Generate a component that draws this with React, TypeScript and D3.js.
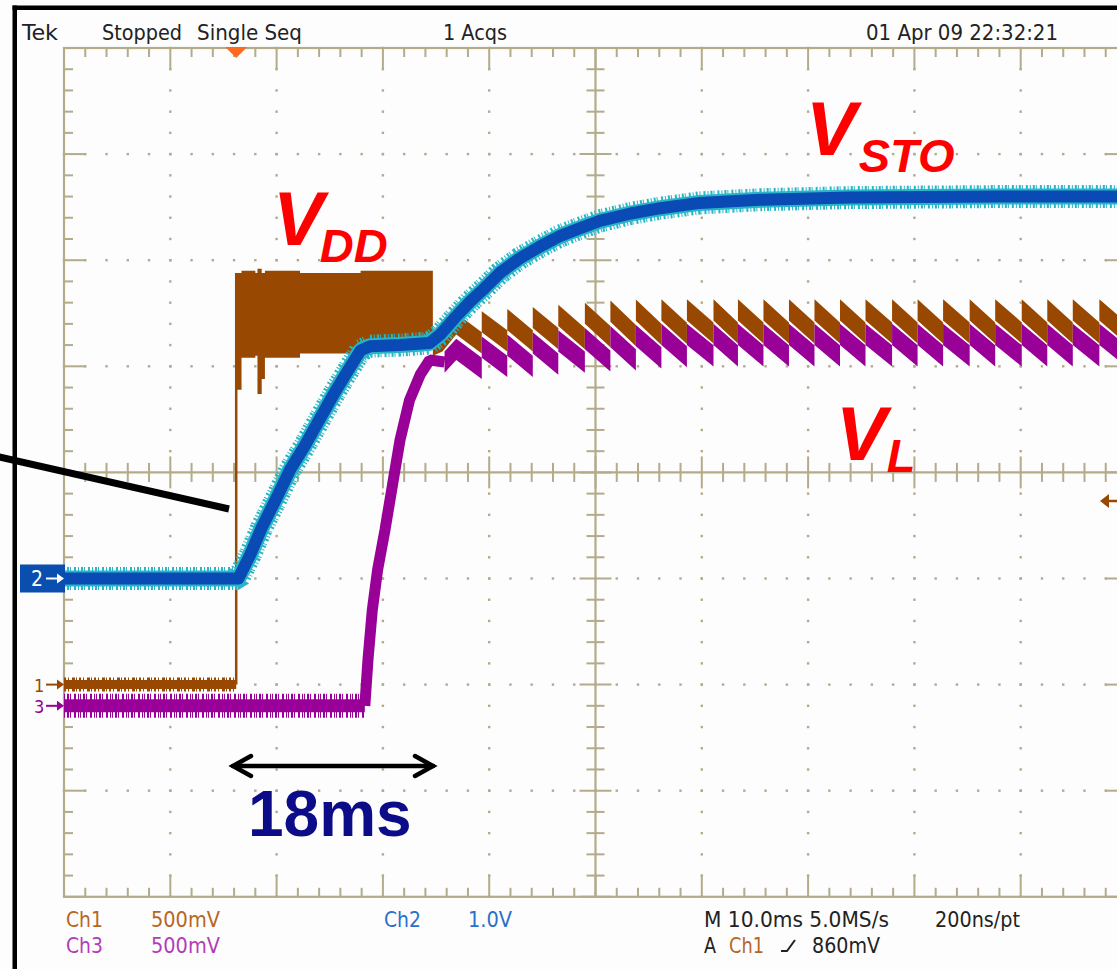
import { useEffect, useRef } from 'react'
import * as d3 from 'd3'

const WIDTH = 1117
const HEIGHT = 969

// Ch2 = V_STO (1.0 V/div) - time in ms, value in V
const ch2Time = [0, 16.4, 17.5, 18.6, 19.9, 21.3, 22.7, 24.1, 25.5, 26.9, 27.9, 28.8, 31.6, 34.4, 35.4, 36.8, 38.2, 39.6, 41.0, 42.9, 44.8, 46.7, 48.5, 50.4, 53.3, 56.1, 59.8, 65.5, 73.9, 88.1, 100]
const ch2Volt = [0, 0, 0.22, 0.48, 0.74, 1.03, 1.26, 1.51, 1.76, 1.99, 2.15, 2.19, 2.2, 2.22, 2.3, 2.46, 2.61, 2.74, 2.88, 3.02, 3.13, 3.23, 3.3, 3.37, 3.44, 3.49, 3.54, 3.57, 3.59, 3.6, 3.6]

// Ch1 = V_DD (500 mV/div)
const ch1IdleTime = [0, 16.2]
const ch1IdleVolt = [0, 0]
const ch1BlockTime = [16.2, 16.3, 16.7, 18.0, 18.2, 18.6, 18.9, 22.2, 27.9, 34.7]
const ch1BlockTop = [1.94, 1.94, 1.95, 1.94, 1.96, 1.94, 1.95, 1.94, 1.95, 1.94]
const ch1BlockBottom = [1.39, 1.39, 1.54, 1.55, 1.37, 1.44, 1.54, 1.56, 1.58, 1.58]
const ch1TailTime = [34.7, 35.6]
const ch1TailVolt = [1.6, 1.62]

// Ch3 = V_L (500 mV/div)
const ch3IdleTime = [0, 28.3]
const ch3IdleVolt = [0, 0]
const ch3RiseTime = [28.3, 28.6, 29.0, 29.5, 30.2, 30.9, 31.6, 32.5, 33.5, 34.4, 35.8]
const ch3RiseVolt = [0, 0.22, 0.45, 0.64, 0.83, 1.04, 1.25, 1.44, 1.56, 1.63, 1.62]

// regulator ripple (both channels switch together): tooth start, peak and end level
const toothTime = [36.9, 39.3, 41.7, 44.1, 46.5, 49.0, 51.4, 53.8, 56.2, 58.6, 61.1, 63.4, 65.8, 68.2, 70.6, 73.0, 75.4, 77.9, 80.3, 82.7, 85.2, 87.6, 90.1, 92.5, 94.9, 97.4]
const ch1Peak = [1.7, 1.71, 1.72, 1.73, 1.74, 1.75, 1.76, 1.765, 1.766, 1.766, 1.766, 1.766, 1.766, 1.766, 1.766, 1.766, 1.766, 1.766, 1.766, 1.766, 1.766, 1.766, 1.766, 1.766, 1.766, 1.766]
const ch1Trough = [1.61, 1.62, 1.62, 1.63, 1.63, 1.64, 1.645, 1.65, 1.655, 1.657, 1.657, 1.657, 1.657, 1.657, 1.657, 1.657, 1.657, 1.657, 1.657, 1.657, 1.657, 1.657, 1.657, 1.657, 1.657, 1.657]
const ch3Peak = [1.68, 1.69, 1.7, 1.71, 1.72, 1.73, 1.74, 1.745, 1.75, 1.75, 1.75, 1.75, 1.75, 1.75, 1.75, 1.75, 1.75, 1.75, 1.75, 1.75, 1.75, 1.75, 1.75, 1.75, 1.75, 1.75]
const ch3Trough = [1.59, 1.6, 1.6, 1.61, 1.62, 1.625, 1.63, 1.64, 1.645, 1.649, 1.649, 1.649, 1.649, 1.649, 1.649, 1.649, 1.649, 1.649, 1.649, 1.649, 1.649, 1.649, 1.649, 1.649, 1.649, 1.649]

// channel setup: volts per division and ground level in divisions
const channels = {
  ch1: { vdiv: 0.5, offset: -2, color: '#984800' },
  ch2: { vdiv: 1.0, offset: -1, color: '#0a4ab4' },
  ch3: { vdiv: 0.5, offset: -2.2, color: '#980098' },
}
const rippleNoise = 0.05 // V, half thickness of the ripple trace

const GRID = '#b3ab8a'
const OSC_FONT = "'Liberation Sans Narrow', 'DejaVu Sans Condensed', 'Liberation Sans', Arial, sans-serif"
const LABEL_FONT = "'Liberation Sans', Arial, sans-serif"

const App = () => {
  const svgRef = useRef<SVGSVGElement>(null)

  useEffect(() => {
    const svg = d3.select(svgRef.current)
    svg.selectAll('*').remove()

    const left = 64
    const top = 48
    const divX = 106.3
    const divY = 106.1
    const right = left + 10 * divX
    const bottom = top + 8 * divY

    const xDiv = d3.scaleLinear([0, 10], [left, right])
    const yDiv = d3.scaleLinear([-4, 4], [bottom, top])
    const xTime = d3.scaleLinear([0, 100], [left, right])
    const yCh = (ch: { vdiv: number; offset: number }) => (v: number) => yDiv(ch.offset + v / ch.vdiv)

    svg.append('rect').attr('width', WIDTH).attr('height', HEIGHT).attr('fill', '#fdfdfd')

    // ---- graticule
    const g = svg.append('g').attr('stroke', GRID).attr('fill', 'none')
    g.append('rect')
      .attr('x', left).attr('y', top)
      .attr('width', right - left).attr('height', bottom - top)
      .attr('stroke-width', 2.2)
    g.append('line').attr('x1', xDiv(5)).attr('x2', xDiv(5)).attr('y1', top).attr('y2', bottom).attr('stroke-width', 2.2)
    g.append('line').attr('x1', left).attr('x2', right).attr('y1', yDiv(0)).attr('y2', yDiv(0)).attr('stroke-width', 2.2)

    const minorX = d3.range(0, 10.01, 0.2)
    const minorY = d3.range(-4, 4.01, 0.2)
    minorX.forEach((d) => {
      const major = Math.abs(d - Math.round(d)) < 1e-6
      const len = major ? 22 : 9
      const x = xDiv(d)
      g.append('line').attr('x1', x).attr('x2', x).attr('y1', top).attr('y2', top + len).attr('stroke-width', 2)
      g.append('line').attr('x1', x).attr('x2', x).attr('y1', bottom).attr('y2', bottom - len).attr('stroke-width', 2)
      const cl = major ? 16 : 9.5
      g.append('line').attr('x1', x).attr('x2', x).attr('y1', yDiv(0) - cl).attr('y2', yDiv(0) + cl).attr('stroke-width', 2)
    })
    minorY.forEach((d) => {
      const major = Math.abs(d - Math.round(d)) < 1e-6
      const len = major ? 22 : 9
      const y = yDiv(d)
      g.append('line').attr('x1', left).attr('x2', left + len).attr('y1', y).attr('y2', y).attr('stroke-width', 2)
      g.append('line').attr('x1', right).attr('x2', right - len).attr('y1', y).attr('y2', y).attr('stroke-width', 2)
      const cl = major ? 16 : 9
      g.append('line').attr('x1', xDiv(5) - cl).attr('x2', xDiv(5) + cl).attr('y1', y).attr('y2', y).attr('stroke-width', 2)
    })
    const dots: [number, number][] = []
    d3.range(1, 10).filter((c) => c !== 5).forEach((c) => {
      minorY.forEach((r) => dots.push([xDiv(c), yDiv(r)]))
    })
    d3.range(-3, 4).filter((r) => r !== 0).forEach((r) => {
      minorX.forEach((c) => dots.push([xDiv(c), yDiv(r)]))
    })
    svg.append('g').attr('fill', GRID)
      .selectAll('rect').data(dots).join('rect')
      .attr('x', (d) => d[0] - 1.2).attr('y', (d) => d[1] - 1.2)
      .attr('width', 2.4).attr('height', 2.4)

    // ---- traces
    const traceLine = (y: (v: number) => number) =>
      d3.line<[number, number]>().x((d) => xTime(d[0])).y((d) => y(d[1]))
    const solid = (pts: [number, number][], y: (v: number) => number, color: string, w: number, join = 'bevel') =>
      svg.append('path').attr('d', traceLine(y)(pts)).attr('fill', 'none')
        .attr('stroke', color).attr('stroke-width', w).attr('stroke-linejoin', join)
    const noisy = (pts: [number, number][], y: (v: number) => number, color: string, w: number, fringe: string, fw: number, dash: string) => {
      svg.append('path').attr('d', traceLine(y)(pts)).attr('fill', 'none')
        .attr('stroke', fringe).attr('stroke-width', fw)
        .attr('stroke-dasharray', dash).attr('stroke-linejoin', 'bevel')
      solid(pts, y, color, w)
    }
    const saw = (peaks: number[], troughs: number[]) => {
      const pts: [number, number][] = []
      toothTime.forEach((t, i) => {
        if (i > 0) pts.push([t, troughs[i - 1]])
        pts.push([t, peaks[i]])
      })
      pts.push([99.9, troughs[troughs.length - 1]])
      return pts
    }
    // ripple drawn as a band around the sawtooth so the rising edges stay vertical
    const ripple = (pts: [number, number][], y: (v: number) => number, color: string) => {
      const band = d3.area<[number, number]>()
        .x((d) => xTime(d[0]))
        .y0((d) => y(d[1] - rippleNoise))
        .y1((d) => y(d[1] + rippleNoise))
      svg.append('path').attr('d', band(pts)).attr('fill', color)
    }
    const zipPts = (a: number[], b: number[]) => d3.zip(a, b) as [number, number][]

    // Ch1
    const y1 = yCh(channels.ch1)
    const c1 = channels.ch1.color
    noisy(zipPts(ch1IdleTime, ch1IdleVolt), y1, c1, 9, c1, 14, '2 2 1 3 3 1 1 2')
    svg.append('line')
      .attr('x1', xTime(16.2)).attr('x2', xTime(16.2))
      .attr('y1', y1(0)).attr('y2', y1(1.94))
      .attr('stroke', c1).attr('stroke-width', 2.5)
    const blockArea = d3.area<number>()
      .x((i) => xTime(ch1BlockTime[i]))
      .y0((i) => y1(ch1BlockBottom[i]))
      .y1((i) => y1(ch1BlockTop[i]))
      .curve(d3.curveStepAfter)
    svg.append('path').attr('d', blockArea(d3.range(ch1BlockTime.length))).attr('fill', c1)
    ripple(zipPts(ch1TailTime, ch1TailVolt).concat(saw(ch1Peak, ch1Trough)), y1, c1)

    // Ch3
    const y3 = yCh(channels.ch3)
    const c3 = channels.ch3.color
    noisy(zipPts(ch3IdleTime, ch3IdleVolt), y3, c3, 13, c3, 24, '1 2 2 1 1 3 2 2 1 1')
    solid(zipPts(ch3RiseTime, ch3RiseVolt), y3, c3, 11)
    ripple([[35.8, 1.62] as [number, number]].concat(saw(ch3Peak, ch3Trough)), y3, c3)

    // Ch2
    const y2 = yCh(channels.ch2)
    const pts2 = zipPts(ch2Time, ch2Volt)
    noisy(pts2, y2, '#26b6c8', 16, '#26b6c8', 23, '1 2 2 1 1 3 2 2')
    solid(pts2, y2, channels.ch2.color, 12, 'round')

    // ---- channel ground markers
    const mk = (y: number, color: string, label: string, boxed: boolean) => {
      const m = svg.append('g')
      if (boxed) {
        m.append('rect').attr('x', 20).attr('y', y - 14).attr('width', 45).attr('height', 28).attr('fill', color)
      }
      const tc = boxed ? '#fff' : color
      m.append('text').attr('x', boxed ? 31 : 34).attr('y', y + 7)
        .attr('fill', tc).style('font-family', OSC_FONT).style('font-size', boxed ? '21px' : '18px').text(label)
      m.append('line').attr('x1', 46).attr('x2', 58).attr('y1', y).attr('y2', y).attr('stroke', tc).attr('stroke-width', 2)
      m.append('path').attr('d', `M57,${y - 5}L64,${y}L57,${y + 5}Z`).attr('fill', tc)
    }
    mk(y2(0), '#0a4fb0', '2', true)
    mk(y1(0), c1, '1', false)
    mk(y3(0), c3, '3', false)

    // trigger level (right) and trigger position (top)
    svg.append('path').attr('d', 'M1100,501L1109,494L1109,508Z').attr('fill', c1)
    svg.append('line').attr('x1', 1106).attr('x2', 1117).attr('y1', 501).attr('y2', 501).attr('stroke', c1).attr('stroke-width', 2.5)
    svg.append('path').attr('d', `M${xTime(16.2) - 11},47L${xTime(16.2) + 11},47L${xTime(16.2)},58Z`).attr('fill', '#ff6a1f')

    // ---- frame
    svg.append('rect').attr('x', 12.5).attr('y', 5.5).attr('width', 4.5).attr('height', HEIGHT).attr('fill', '#000')
    svg.append('rect').attr('x', 12.5).attr('y', 5.5).attr('width', WIDTH).attr('height', 4.5).attr('fill', '#000')

    // ---- readouts
    const readout = (x: number, y: number, s: string, len: number, color = '#222') =>
      svg.append('text').attr('x', x).attr('y', y)
        .attr('textLength', len).attr('lengthAdjust', 'spacingAndGlyphs')
        .attr('fill', color).style('font-family', OSC_FONT).style('font-size', '21px').text(s)
    readout(22, 40, 'Tek', 36)
    readout(102, 40, 'Stopped', 80)
    readout(197, 40, 'Single Seq', 105)
    readout(443, 40, '1 Acqs', 64)
    readout(866, 40, '01 Apr 09 22:32:21', 192)
    readout(66, 927, 'Ch1', 37, '#b8651f')
    readout(151, 927, '500mV', 69, '#b8651f')
    readout(66, 953, 'Ch3', 37, '#b23cb8')
    readout(151, 953, '500mV', 69, '#b23cb8')
    readout(384, 927, 'Ch2', 37, '#2a6fc9')
    readout(468, 927, '1.0V', 44, '#2a6fc9')
    readout(704, 927, 'M 10.0ms 5.0MS/s', 185)
    readout(935, 927, '200ns/pt', 85)
    readout(704, 953, 'A', 12)
    readout(729, 953, 'Ch1', 35, '#b8651f')
    readout(812, 953, '860mV', 68)
    svg.append('path').attr('d', 'M781,951L787,951L795,940').attr('fill', 'none').attr('stroke', '#222').attr('stroke-width', 2)

    // ---- annotations
    const big = (x: number, y: number, main: string, sub: string, dx: number, dy: number) => {
      const t = svg.append('text').attr('x', x).attr('y', y).attr('fill', '#ff0000')
        .style('font-family', LABEL_FONT).style('font-weight', 'bold').style('font-style', 'italic')
      t.append('tspan').style('font-size', '76px').text(main)
      t.append('tspan').attr('dx', dx).attr('dy', dy).style('font-size', '47px').text(sub)
    }
    big(806, 155, 'V', 'STO', 2, 17)
    big(273, 245, 'V', 'DD', -4, 17)
    big(836, 460, 'V', 'L', 0, 12)

    svg.append('text').attr('x', 248).attr('y', 836).attr('fill', '#0c0c88')
      .style('font-family', LABEL_FONT).style('font-weight', 'bold').style('font-size', '64px').text('18ms')

    const arr = svg.append('g').attr('stroke', '#000').attr('stroke-width', 4.5).attr('fill', 'none').attr('stroke-linecap', 'round')
    arr.append('line').attr('x1', 233).attr('x2', 433).attr('y1', 766).attr('y2', 766)
    arr.append('path').attr('d', 'M251,756L233,766L251,776')
    arr.append('path').attr('d', 'M415,756L433,766L415,776')

    svg.append('line').attr('x1', -5).attr('y1', 456).attr('x2', 229).attr('y2', 509)
      .attr('stroke', '#000').attr('stroke-width', 7)
  }, [])

  return (
    <svg
      ref={svgRef}
      width={WIDTH}
      height={HEIGHT}
      style={{ position: 'absolute', left: 0, top: 0 }}
    />
  )
}

export default App
